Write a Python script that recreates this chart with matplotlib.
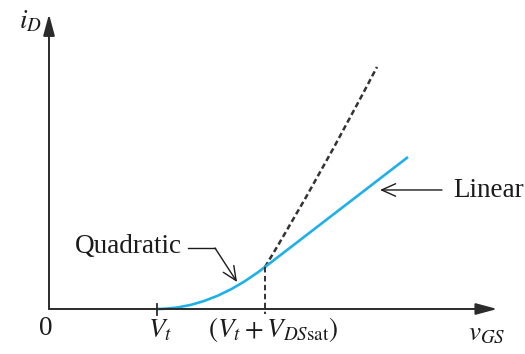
import matplotlib
matplotlib.use("Agg")
import matplotlib.pyplot as plt
from matplotlib.path import Path
from matplotlib.patches import PathPatch

plt.rcParams['font.family'] = ['Liberation Serif', 'DejaVu Serif']
plt.rcParams['mathtext.fontset'] = 'stix'

# transfer characteristic, x in units of V_t
v_t = 1.0
v_dssat = 1.0
i_sat = 0.389                        # current at v_GS = V_t + V_DSsat
quad_ctrl = (1.5, 0.0)               # bezier control for the square-law part
lin_end = (3.324, 1.407)             # end of the linear (velocity-saturated) part
sq_ctrl = (2.496, 1.207)             # bezier control for the ideal square-law continuation
sq_end = (3.037, 2.241)

x_max, y_max = 4.15, 2.73           # axis arrow tips

blue = '#1fb0ea'
ink = '#1c1a1b'

fig = plt.figure(figsize=(5.25, 3.54), dpi=100)
ax = fig.add_axes([0, 0, 1, 1])
ax.set_xlim(-0.4537, 4.4074)
ax.set_ylim(-0.4167, 2.8611)
ax.axis('off')

# axes with filled arrow heads
head = '-|>,head_length=1.3,head_width=0.35'
ax.annotate('', xy=(x_max, 0), xytext=(0, 0),
            arrowprops=dict(arrowstyle=head, color='#2b2b2b', lw=1.4,
                            mutation_scale=10, shrinkA=0, shrinkB=0))
ax.annotate('', xy=(0, y_max), xytext=(0, 0),
            arrowprops=dict(arrowstyle=head, color='#2b2b2b', lw=1.4,
                            mutation_scale=10, shrinkA=0, shrinkB=0))

# V_t tick
ax.plot([v_t, v_t], [-0.06, 0.05], color='#2b2b2b', lw=1.3)

x_knee = v_t + v_dssat
# quadratic region
quad = Path([(v_t, 0), quad_ctrl, (x_knee, i_sat)],
            [Path.MOVETO, Path.CURVE3, Path.CURVE3])
ax.add_patch(PathPatch(quad, fill=False, edgecolor=blue, lw=1.9, capstyle='butt'))
# linear region
ax.plot([x_knee, lin_end[0]], [i_sat, lin_end[1]], color=blue, lw=1.9,
        solid_capstyle='butt')
# square-law continuation
sq = Path([(x_knee, i_sat), sq_ctrl, sq_end],
          [Path.MOVETO, Path.CURVE3, Path.CURVE3])
ax.add_patch(PathPatch(sq, fill=False, edgecolor='#333333', lw=1.8,
                       linestyle=(0, (2.2, 1.3))))
ax.plot([x_knee, x_knee], [i_sat, -0.05], color='#333333', lw=1.4,
        linestyle=(0, (2.8, 1.8)))

# labels
fs = 19.5
ax.text(-0.176, 2.60, r'$i_D$', fontsize=fs, color=ink, ha='center', va='baseline')
ax.text(-0.028, -0.241, '0', fontsize=fs, color=ink, ha='center', va='baseline')
ax.text(v_t + 0.03, -0.259, r'$V_t$', fontsize=fs, color=ink, ha='center', va='baseline')
ax.text(2.074, -0.259, r'$(V_t + V_{DS\mathrm{sat}})$', fontsize=fs, color=ink,
        ha='center', va='baseline')
ax.text(4.056, -0.287, r'$v_{GS}$', fontsize=fs, color=ink, ha='center', va='baseline')

ax.text(0.241, 0.519, 'Quadratic', fontsize=fs, color=ink, ha='left', va='baseline')
ax.plot([1.287, 1.537], [0.565, 0.565], color=ink, lw=1.0)
ax.annotate('', xy=(1.741, 0.250), xytext=(1.537, 0.565),
            arrowprops=dict(arrowstyle='->,head_length=1.0,head_width=0.45',
                            color=ink, lw=1.0, mutation_scale=10,
                            shrinkA=0, shrinkB=0))

ax.text(3.741, 1.037, 'Linear', fontsize=fs, color=ink, ha='left', va='baseline')
ax.annotate('', xy=(3.065, 1.102), xytext=(3.639, 1.102),
            arrowprops=dict(arrowstyle='->,head_length=1.0,head_width=0.45',
                            color=ink, lw=1.0, mutation_scale=10,
                            shrinkA=0, shrinkB=0))

fig.savefig('out.png', dpi=100)
